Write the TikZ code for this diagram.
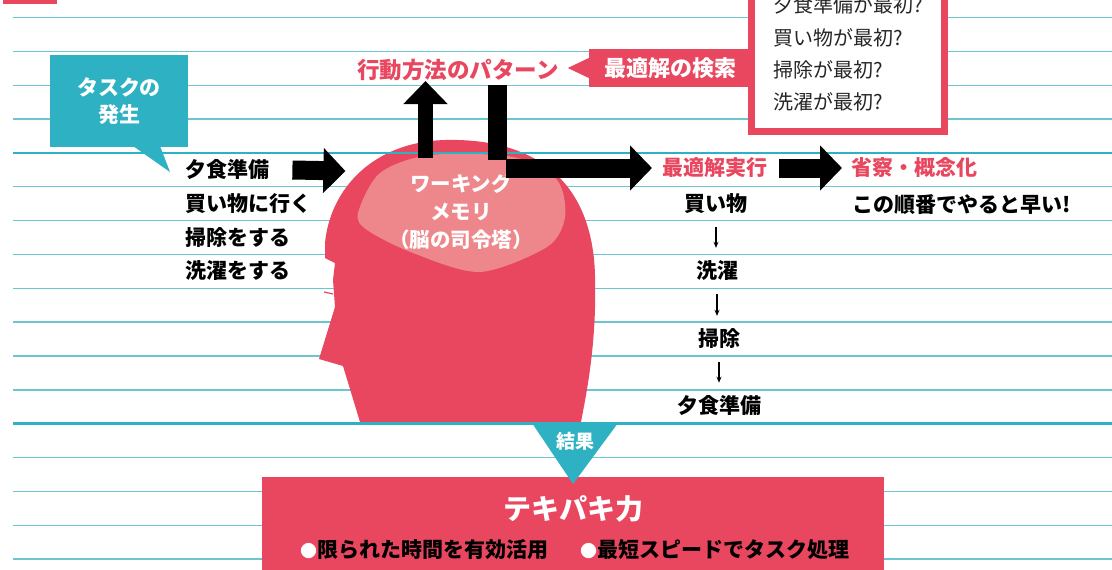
\documentclass[tikz,border=0pt]{standalone}
\usepackage{fontspec}
\setmainfont{Noto Sans CJK JP}
\usepackage{tikz}
\usetikzlibrary{arrows.meta}
\usetikzlibrary{positioning}
\definecolor{rosa}{HTML}{E8475F}
\definecolor{hellrosa}{HTML}{EE878B}
\definecolor{tuerkis}{HTML}{2EB1C2}
\definecolor{linie}{HTML}{6CC6D1}

\begin{document}
\begin{tikzpicture}[x=1pt,y=-1pt,
		txt/.style={font=\bfseries\fontsize{21}{27}\selectfont, inner sep=0pt},
		rosatxt/.style={txt, text=rosa},
		weiss/.style={txt, text=white, align=center},
		frage/.style={font=\fontsize{20}{20}\selectfont, inner sep=0pt, text=black!85, anchor=west},
		block/.style={line width=19pt, -{Triangle[length=22pt,width=44pt]}},
		klein/.style={line width=1.1pt, -{Stealth[length=6pt,width=5pt]}, shorten <=13pt, shorten >=13pt}]
		\useasboundingbox (0,0) rectangle (1112,570);
		\fill[white] (0,0) rectangle (1112,570);
		\foreach \i in {0,...,16}
			\draw[linie, line width=1.4pt] (13,17.5+33.85*\i) -- (1112,17.5+33.85*\i);
		\fill[rosa] (3,0) rectangle (57,3.5);

		\node[fill=tuerkis, minimum width=138pt, minimum height=92pt, weiss] (task) at (119,101) {タスクの\\発生};
		\fill[tuerkis] (133,146) -- (170,172) -- (160,146) -- cycle;
		\node[txt, anchor=west] (l1) at (185,170) {夕食準備};
		\node[txt, anchor=west] (l2) at (185,204) {買い物に行く};
		\node[txt, anchor=west] (l3) at (185,238) {掃除をする};
		\node[txt, anchor=west] (l4) at (185,271) {洗濯をする};

		\fill[rosa] (360,422) -- (343,366) -- (319,359) -- (335,307) -- (333,280) -- (335,263) -- (325,258) -- (325,243)
			.. controls (330,190) and (372,142) .. (445,140)
			.. controls (525,138) and (592,172) .. (595,275)
			.. controls (597,345) and (586,395) .. (581,422) -- cycle;
		\draw[rosa, line width=1.2pt] (324,292) -- (333,294);
		\fill[hellrosa] plot[smooth cycle] coordinates {(358,213) (380,173) (430,155) (513,157) (557,180) (565,217) (547,247) (480,272) (413,253) (367,230)};
		\node[weiss, font=\bfseries\fontsize{20.5}{28}\selectfont] (wm) at (461,212) {ワーキング\\メモリ\\（脳の司令塔）};
		\draw[tuerkis, line width=2.8pt] (13,152.9) -- (1112,152.9);
		\draw[tuerkis, line width=2.8pt] (13,423.7) -- (1112,423.7);

		\node[rosatxt, font=\bfseries\fontsize{22.5}{27}\selectfont] (pattern) at (458,70) {行動方法のパターン};
		\draw[rosa, line width=7pt, fill=white] (751.5,-20) rectangle (944.5,131.5);
		\node[frage] (q1) at (773,5) {夕食準備が最初?};
		\node[frage] (q2) at (773,38) {買い物が最初?};
		\node[frage] (q3) at (773,70) {掃除が最初?};
		\node[frage] (q4) at (773,102) {洗濯が最初?};
		\node[fill=rosa, txt, font=\bfseries\fontsize{22}{27}\selectfont, text=white, minimum width=163pt, minimum height=38pt] (search) at (670.5,68) {最適解の検索};
		\fill[rosa] (search.west) ++(0,-10) -- ++(-21,10) -- ++(21,10) -- cycle;

		\node[rosatxt, anchor=west] (exec) at (662,168) {最適解実行};
		\node[rosatxt, anchor=west] (reflect) at (851,168) {省察・概念化};
		\node[txt, anchor=west] (fazit) at (852,205) {この順番でやると早い!};
		\node[txt] (c1) at (716,204) {買い物};
		\node[txt] (c2) at (717,271) {洗濯};
		\node[txt] (c3) at (719,339) {掃除};
		\node[txt] (c4) at (719,406) {夕食準備};
		\draw[klein] (c1.south) -- (c1.south |- c2.north);
		\draw[klein] (c2.south) -- (c2.south |- c3.north);
		\draw[klein] (c3.south) -- (c3.south |- c4.north);

		\coordinate (hirn) at (425.5,158);
		\coordinate (knick) at (497.5,85);
		\coordinate (ecke) at (497.5,160);
		\coordinate (bar) at (507,168);
		\draw[block] ([xshift=23pt]l1.east) -- ([xshift=76pt,yshift=-1pt]l1.east);
		\draw[block, line width=15pt, -{Triangle[length=23pt,width=43pt]}] (hirn) -- (hirn |- pattern.south);
		\draw[line width=19pt] (knick) -- (ecke);
		\draw[block, shorten >=10pt] ([xshift=-1pt]bar) -- (exec.west);
		\draw[block] ([xshift=12pt]exec.east) -- ([xshift=-9pt]reflect.west);

		\node[fill=rosa, minimum width=622pt, minimum height=100pt, anchor=north west, inner sep=0pt] (ergebnis) at (262,477) {};
		\fill[tuerkis] (532,423) -- (618,423) -- (573,484) -- cycle;
		\node[txt, font=\bfseries\fontsize{19}{19}\selectfont, text=white] (erg) at (575,441) {結果};
		\node[weiss, font=\bfseries\fontsize{28}{28}\selectfont] (titel) at (573,509) {テキパキ力};
		\node[txt, anchor=west] (p1) at (300,550) {\textcolor{white}{\fontsize{17}{17}\selectfont●}限られた時間を有効活用};
		\node[txt, anchor=west] (p2) at (580,550) {\textcolor{white}{\fontsize{17}{17}\selectfont●}最短スピードでタスク処理};
	\end{tikzpicture}
\end{document}
